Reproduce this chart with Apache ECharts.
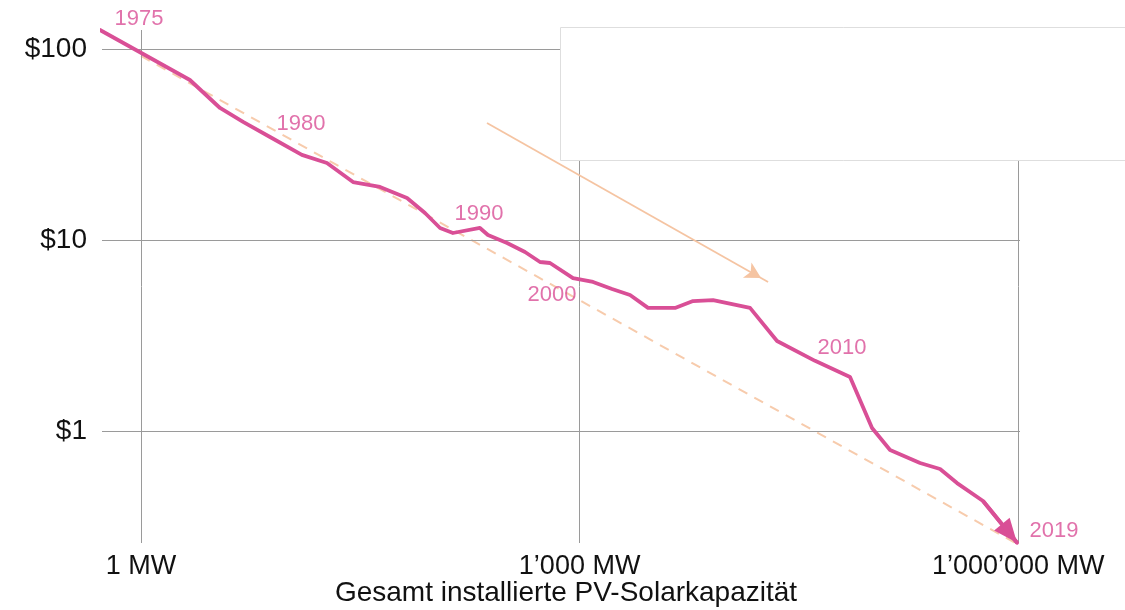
<!DOCTYPE html>
<html><head><meta charset="utf-8">
<script src="https://cdn.jsdelivr.net/npm/echarts@6/dist/echarts.min.js"></script>
<style>html,body{margin:0;padding:0;background:#fff}#c{width:1125px;height:610px}</style>
</head><body><div id="c"></div>
<script>
// Cumulative installed PV capacity (MW) and module price ($/W), 1975 -> 2019
const capacityMW = [0.524, 2.16, 3.47, 4.99, 7.63, 12.6, 18.7, 28.2, 43.1, 66.0, 87.6, 111, 136, 208, 236, 319, 423, 536, 627, 901, 1235, 1666, 2212, 2937, 4493, 5965, 8174, 14640, 22400, 40750, 70710, 100000, 132800, 213000, 291900, 381400, 574300, 981300];
const pricePerWatt = [125.7, 68.8, 49.1, 41.5, 34.6, 27.9, 25.3, 20.1, 18.95, 16.6, 13.85, 11.56, 10.88, 11.56, 10.62, 9.65, 8.65, 7.67, 7.58, 6.32, 6.03, 5.54, 5.15, 4.41, 4.41, 4.79, 4.85, 4.41, 2.96, 2.33, 1.92, 1.037, 0.795, 0.68, 0.633, 0.534, 0.43, 0.26];

// Dashed learning-rate trend line
const trendCapacity = [1, 951000];
const trendPrice = [91.9, 0.26];

// Thin hint arrow
const hintCapacity = [232.5, 19450];
const hintPrice = [41.0, 6.03];

// Year annotations
const yearLabels = ['1975', '1980', '1990', '2000', '2010', '2019'];
const yearLabelCapacity = [0.969, 12.43, 205.1, 647.5, 62340, 1758000];
const yearLabelPrice = [143.6, 40.5, 13.68, 5.152, 2.72, 0.2996];

// Axis ticks
const xTickValues = [1, 1000, 1000000];
const xTickLabels = ['1 MW', '1\u2019000 MW', '1\u2019000\u2019000 MW'];
const yTickValues = [1, 10, 100];
const yTickLabels = ['$1', '$10', '$100'];
const xAxisTitle = 'Gesamt installierte PV-Solarkapazit\u00e4t';

const PINK = '#d94f96';
const PEACH = '#f7cbac';
const FONT = "'Liberation Sans', Arial, sans-serif";

function tickLabel(values, labels) {
  return function (v) {
    for (let i = 0; i < values.length; i++) {
      if (Math.abs(Math.log10(v) - Math.log10(values[i])) < 1e-6) return labels[i];
    }
    return '';
  };
}

const chart = echarts.init(document.getElementById('c'), null, {renderer: 'canvas'});
const mainData = capacityMW.map((x, i) => [x, pricePerWatt[i]]);
const n = mainData.length;

chart.setOption({
  animation: false,
  backgroundColor: '#fff',
  textStyle: {fontFamily: FONT},
  grid: {left: 102, right: 105, top: 30, bottom: 67, containLabel: false, outerBoundsMode: 'none'},
  xAxis: {
    type: 'log', logBase: 10, min: 0.541, max: 1028000,
    axisLine: {show: false}, axisTick: {show: false}, splitLine: {show: false},
    axisLabel: {formatter: tickLabel(xTickValues, xTickLabels), fontSize: 27, color: '#111', margin: 10, fontFamily: FONT},
    name: xAxisTitle, nameLocation: 'middle', nameGap: 36, nameMoveOverlap: false,
    nameTextStyle: {fontSize: 28, color: '#111', fontFamily: FONT, padding: [0, 0, 0, 10]}
  },
  yAxis: {
    type: 'log', logBase: 10, min: 0.2593, max: 125.7,
    axisLine: {show: false}, axisTick: {show: false}, splitLine: {show: false},
    axisLabel: {formatter: tickLabel(yTickValues, yTickLabels), fontSize: 28, color: '#111', margin: 15, fontFamily: FONT}
  },
  graphic: [{
    type: 'rect', z: 100, silent: true,
    shape: {x: 560.5, y: 27.5, width: 600, height: 133},
    style: {fill: '#fff', stroke: '#dedede', lineWidth: 1}
  }],
  series: [
    {
      name: 'grid', type: 'line', data: [], z: 1, silent: true,
      markLine: {
        silent: true, symbol: 'none', animation: false,
        label: {show: false},
        lineStyle: {color: '#9a9a9a', width: 1, type: 'solid'},
        data: xTickValues.map(v => ({xAxis: v})).concat(yTickValues.map(v => ({yAxis: v})))
      }
    },
    {
      name: 'trend', type: 'line', z: 3, silent: true, clip: false,
      data: trendCapacity.map((x, i) => [x, trendPrice[i]]),
      symbol: 'none',
      lineStyle: {color: PEACH, width: 2, type: [10, 8]}
    },
    {
      name: 'hint', type: 'line', data: [], z: 3, silent: true,
      markLine: {
        silent: true, symbol: ['none', 'arrow'], animation: false,
        label: {show: false},
        lineStyle: {color: '#f5c4a2', width: 1.8, type: 'solid'},
        data: [[
          {coord: [hintCapacity[0], hintPrice[0]]},
          {coord: [hintCapacity[1], hintPrice[1]], symbolSize: [13, 16], symbolOffset: [0, 8]}
        ]]
      }
    },
    {
      name: 'price', type: 'line', z: 5, silent: true, clip: false,
      data: mainData, symbol: 'none',
      lineStyle: {color: PINK, width: 3.8, cap: 'round', join: 'round'},
      markLine: {
        silent: true, symbol: ['none', 'triangle'], animation: false,
        label: {show: false},
        lineStyle: {color: PINK, width: 3.8, type: 'solid'},
        data: [[
          {coord: mainData[n - 2]},
          {coord: mainData[n - 1], symbolSize: [20, 24], symbolOffset: [0, 12]}
        ]]
      }
    },
    {
      name: 'years', type: 'scatter', z: 6, silent: true, clip: false,
      data: yearLabelCapacity.map((x, i) => [x, yearLabelPrice[i]]),
      symbolSize: 0,
      label: {
        show: true, position: 'inside', color: PINK, fontSize: 22, fontFamily: FONT,
        formatter: p => yearLabels[p.dataIndex]
      }
    }
  ]
});
</script>
</body></html>
